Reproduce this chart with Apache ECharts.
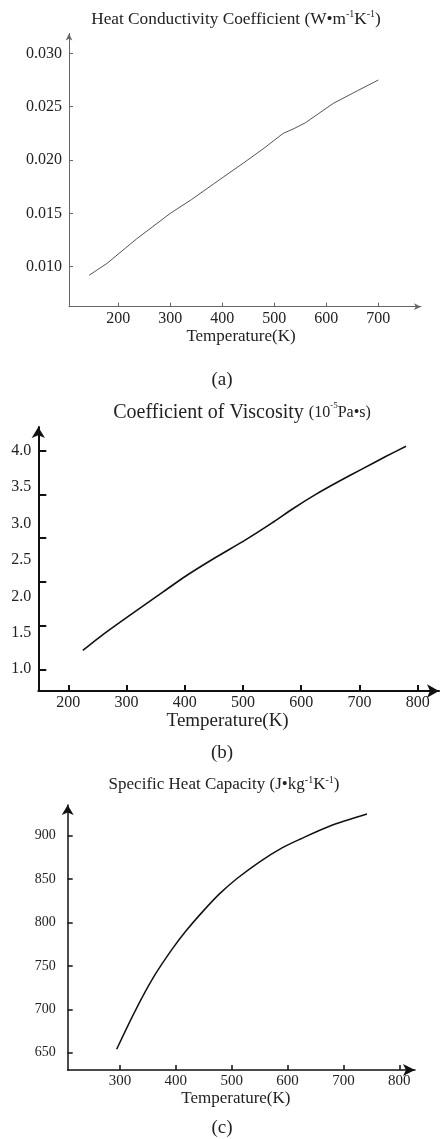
<!DOCTYPE html>
<html>
<head>
<meta charset="utf-8">
<script src="https://cdn.jsdelivr.net/npm/echarts@6/dist/echarts.min.js"></script>
<style>
html,body{margin:0;padding:0;background:#fff;}
#c{width:445px;height:1139px;}
</style>
</head>
<body>
<div id="c"></div>
<script>
// ---- Data ----
// (a) Heat conductivity coefficient
var tempA = [144, 178, 235, 300, 341, 396, 440, 480, 517, 536, 560, 613, 660, 700];
var condA = [0.0092, 0.0103, 0.0126, 0.0150, 0.0163, 0.0182, 0.0197, 0.0211, 0.0225, 0.0229, 0.0235, 0.0253, 0.0265, 0.0275];
var xTicksA = [200, 300, 400, 500, 600, 700];
var yTicksA = [0.010, 0.015, 0.020, 0.025, 0.030];

// (b) Coefficient of viscosity
var tempB = [225, 260, 300, 350, 400, 450, 505, 550, 585, 625, 665, 705, 745, 780];
var viscB = [1.26, 1.48, 1.71, 1.99, 2.27, 2.52, 2.78, 3.01, 3.20, 3.40, 3.58, 3.75, 3.92, 4.06];
var xTicksB = [200, 300, 400, 500, 600, 700, 800];
var yLabelsB = [1.0, 1.5, 2.0, 2.5, 3.0, 3.5, 4.0];
var yTickMarksB = [1.0, 1.6, 2.2, 2.8, 3.4, 4.0];

// (c) Specific heat capacity
var tempC = [294, 327, 360, 393, 419, 450, 478, 510, 550, 590, 622, 675, 742];
var cpC = [654, 698, 737, 769, 791, 814, 833, 851, 870, 886, 896, 911, 925];
var xTicksC = [300, 400, 500, 600, 700, 800];
var yTicksC = [650, 700, 750, 800, 850, 900];

function pairs(xs, ys) { return xs.map(function (x, i) { return [x, ys[i]]; }); }

var SERIF = '"Liberation Serif", "Times New Roman", serif';

function xAxisCfg(gi, min, max, ticks, o) {
  return {
    type: 'value', gridIndex: gi, min: min, max: max,
    splitLine: { show: false },
    axisLine: { show: true, symbol: ['none', 'arrow'], symbolSize: o.arrow, lineStyle: { color: o.color, width: o.width } },
    axisTick: { show: true, inside: true, length: o.tick, customValues: ticks, lineStyle: { color: o.color, width: o.width } },
    axisLabel: { customValues: ticks, margin: o.margin, color: '#222', fontFamily: SERIF, fontSize: o.fs },
    name: 'Temperature(K)', nameLocation: 'middle', nameGap: o.nameGap,
    nameTextStyle: { fontFamily: SERIF, fontSize: o.nfs, color: '#222', padding: [0, o.nshift, 0, 0] }
  };
}
function yAxisCfg(gi, min, max, labels, ticks, dec, o) {
  return {
    type: 'value', gridIndex: gi, min: min, max: max,
    splitLine: { show: false },
    axisLine: { show: true, symbol: ['none', 'arrow'], symbolSize: o.arrow, lineStyle: { color: o.color, width: o.width } },
    axisTick: { show: true, inside: true, length: o.tick, customValues: ticks, lineStyle: { color: o.color, width: o.width } },
    axisLabel: { customValues: labels, margin: o.margin, color: '#222', fontFamily: SERIF, fontSize: o.fs,
      formatter: function (v) { return v.toFixed(dec); } }
  };
}

var styleA = { color: '#666', width: 1, arrow: [5, 7], tick: 4, margin: 4, fs: 16, nameGap: 18, nfs: 17, nshift: 8 };
var styleAy = { color: '#666', width: 1, arrow: [5, 7], tick: 4, margin: 7, fs: 16 };
var styleB = { color: '#111', width: 2, arrow: [10, 12], tick: 6, margin: 4, fs: 16, nameGap: 19, nfs: 19, nshift: 22 };
var styleBy = { color: '#111', width: 2, arrow: [10, 11], tick: 8, margin: 7, fs: 16 };
var styleC = { color: '#111', width: 1.5, arrow: [9, 12], tick: 5, margin: 4, fs: 15, nameGap: 16, nfs: 17, nshift: 11 };
var styleCy = { color: '#111', width: 1.5, arrow: [9, 10], tick: 5, margin: 12, fs: 14 };

function titleCfg(text, rich, left, top) {
  return { text: text, left: left, top: top, textAlign: 'center', padding: 0, itemGap: 0,
    textStyle: { rich: rich, fontFamily: SERIF, fontWeight: 'normal', color: '#222' } };
}
function richSet(main, par, sup, lh) {
  return {
    t: { fontFamily: SERIF, fontSize: main, lineHeight: lh, color: '#222' },
    u: { fontFamily: SERIF, fontSize: par, lineHeight: lh, color: '#222' },
    s: { fontFamily: SERIF, fontSize: sup, lineHeight: Math.round(lh * 0.6), verticalAlign: 'top', color: '#222' }
  };
}
var capRich = { c: { fontFamily: SERIF, fontSize: 19, lineHeight: 22, color: '#222' } };

var chart = echarts.init(document.getElementById('c'), null, { renderer: 'canvas' });
chart.setOption({
  animation: false,
  backgroundColor: '#fff',
  title: [
    titleCfg('{t|Heat Conductivity Coefficient (W•m}{s|-1}{t|K}{s|-1}{t|)}', richSet(17.3, 17.3, 10, 20), 236, 9),
    titleCfg('{t|Coefficient of Viscosity }{u|(10}{s|-5}{u|Pa•s)}', richSet(20, 16, 9, 24), 242, 401),
    titleCfg('{t|Specific Heat Capacity (J•kg}{s|-1}{t|K}{s|-1}{t|)}', richSet(17, 17, 10, 20), 224, 775),
    titleCfg('{c|(a)}', capRich, 222, 369),
    titleCfg('{c|(b)}', capRich, 222, 742),
    titleCfg('{c|(c)}', capRich, 222, 1117)
  ],
  grid: [
    { left: 69, top: 33.5, width: 352, height: 273.2 },
    { left: 38.3, top: 427, width: 400.7, height: 264 },
    { left: 67.7, top: 805, width: 347.3, height: 265 }
  ],
  xAxis: [
    xAxisCfg(0, 105.2, 782, xTicksA, styleA),
    xAxisCfg(1, 148.5, 836.6, xTicksB, styleB),
    xAxisCfg(2, 206.4, 828, xTicksC, styleC)
  ],
  yAxis: [
    yAxisCfg(0, 0.00625, 0.03186, yTicksA, yTicksA, 3, styleAy),
    yAxisCfg(1, 0.702, 4.325, yLabelsB, yTickMarksB, 1, styleBy),
    yAxisCfg(2, 630.1, 935.4, yTicksC, yTicksC, 0, styleCy)
  ],
  series: [
    { type: 'line', xAxisIndex: 0, yAxisIndex: 0, data: pairs(tempA, condA), showSymbol: false, smooth: false,
      lineStyle: { color: '#555', width: 1 } },
    { type: 'line', xAxisIndex: 1, yAxisIndex: 1, data: pairs(tempB, viscB), showSymbol: false, smooth: 0.2,
      lineStyle: { color: '#111', width: 1.6 } },
    { type: 'line', xAxisIndex: 2, yAxisIndex: 2, data: pairs(tempC, cpC), showSymbol: false, smooth: 0.3,
      lineStyle: { color: '#111', width: 1.5 } }
  ]
});
</script>
</body>
</html>
